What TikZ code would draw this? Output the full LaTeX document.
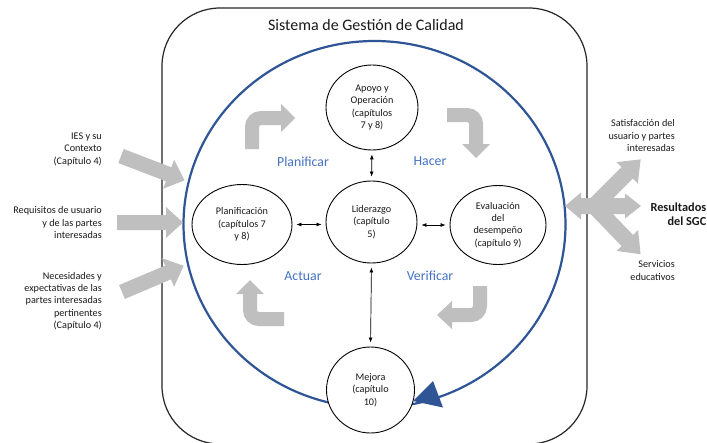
\documentclass[tikz,border=0pt]{standalone}
\usepackage{fontspec}
\setmainfont{Carlito}
\usetikzlibrary{shapes.geometric,arrows.meta}
\definecolor{sgcblue}{HTML}{2F5597}
\definecolor{lblblue}{HTML}{4472C4}
\definecolor{grayarrow}{HTML}{BFBFBF}
\definecolor{txt}{HTML}{1A1A1A}
\newcommand{\bodyfont}{\fontsize{10.2}{12.3}\selectfont}
% #1 start, #2 angle, #3 length, #4 shaft half width, #5 head half width, #6 head length
\newcommand{\fatarrow}[6]{%
  \begin{scope}[shift={#1},rotate=#2]
    \fill[grayarrow] (0,-#4) -- ({#3-#6},-#4) -- ({#3-#6},-#5) -- (#3,0) -- ({#3-#6},#5) -- ({#3-#6},#4) -- (0,#4) -- cycle;
  \end{scope}}
\begin{document}
\begin{tikzpicture}[x=1pt,y=-1pt,
  circnode/.style={ellipse, draw=black, line width=0.9pt, fill=white, inner sep=0pt, align=center, font=\bodyfont, text=txt},
  sidetext/.style={inner sep=0pt, align=right, font=\bodyfont, text=txt, anchor=east},
  phase/.style={inner sep=0pt, font=\fontsize{13.8}{16}\selectfont, text=lblblue},
  conn/.style={{Latex[length=5pt,width=4pt]}-{Latex[length=5pt,width=4pt]}, line width=0.7pt, shorten >=4pt, shorten <=4pt},
  bentshaft/.style={draw=grayarrow, line width=14pt, rounded corners=9pt},
  boxline/.style={draw=black!85, line width=1.2pt, rounded corners=58pt},
  cycleline/.style={draw=sgcblue, line width=2.2pt}]
\useasboundingbox (0,0) rectangle (707,442);
\clip (0,0) rectangle (707,442);
\fill[white] (0,0) rectangle (707,442);

% outer system box
\draw[boxline] (162,8) rectangle (587,444);
\node[inner sep=0pt, font=\fontsize{16}{19}\selectfont, text=txt] (ttl) at (366,25) {Sistema de Gestión de Calidad};

% PDCA cycle
\draw[cycleline] (374.5,224.4) ellipse [x radius=191, y radius=183.4];

% bent gray arrows
\draw[bentshaft] (252,149) -- (252,118) -- (281.5,118);
\fill[grayarrow] (281,104) -- (295,118) -- (281,132) -- cycle;
\draw[bentshaft] (447,115) -- (476,115) -- (476,144.5);
\fill[grayarrow] (462,144) -- (490,144) -- (476,158) -- cycle;
\draw[bentshaft] (480,286) -- (480,315) -- (451.5,315);
\fill[grayarrow] (452,301) -- (452,329) -- (437,315) -- cycle;
\draw[bentshaft] (284,319) -- (250,319) -- (250,293.5);
\fill[grayarrow] (236,294) -- (264,294) -- (250,280) -- cycle;

% input arrows (left)
\fatarrow{(121,156)}{-21}{68}{7.5}{15.5}{17}
\fatarrow{(117,222.5)}{0}{66}{7.5}{15.5}{17}
\fatarrow{(122,292)}{23}{67}{7.5}{15.5}{17}

% output arrows (right)
\fatarrow{(598,206)}{180}{33}{8}{13.5}{16}
\fatarrow{(596,206)}{0}{45}{8}{12.5}{16}
\fatarrow{(594,206)}{45}{66}{8}{15}{19}
\fatarrow{(594,206)}{-46}{67}{8}{15}{19}

% process nodes
\node[circnode, minimum width=92pt, minimum height=85pt] (apo) at (372,107.5) {Apoyo y\\Operación\\(capítulos\\7 y 8)};
\node[circnode, minimum width=91pt, minimum height=82pt] (lid) at (371.5,222) {Liderazgo\\(capítulo\\5)};
\node[circnode, minimum width=100pt, minimum height=80pt] (pla) at (242,224.5) {Planificación\\(capítulos 7\\y 8)};
\node[circnode, minimum width=96pt, minimum height=79pt] (eva) at (498,225) {Evaluación\\del\\desempeño\\(capítulo 9)};
\node[circnode, minimum width=88pt, minimum height=86pt] (mej) at (370.5,390) {Mejora\\(capítulo\\10)};

% connectors
\draw[conn] (apo.south) -- (lid.north);
\draw[conn] (lid.south) -- (mej.north);
\draw[conn] (pla.east) -- (pla.east -| lid.west);
\draw[conn] (eva.west -| lid.east) -- (eva.west);

% arrowhead of the cycle
\fill[sgcblue] (413,401) -- (433,381) -- (443,407.5) -- cycle;

% phase labels
\node[phase] (plan) at (303,162) {Planificar};
\node[phase] (hac) at (430,161) {Hacer};
\node[phase] (act) at (303,276) {Actuar};
\node[phase] (ver) at (430,276) {Verificar};

% left texts
\node[sidetext] (ies) at (102,149.5) {IES y su\\Contexto\\(Capítulo 4)};
\node[sidetext] (req) at (102,222.5) {Requisitos de usuario\\y de las partes\\interesadas};
\node[sidetext] (nec) at (102,301) {Necesidades y\\expectativas de las\\partes interesadas\\pertinentes\\(Capítulo 4)};

% right texts
\node[sidetext] (sat) at (675,135.5) {Satisfacción del\\usuario y partes\\interesadas};
\node[sidetext, font=\fontsize{12.3}{14}\selectfont\bfseries] (res) at (706.5,214) {Resultados\\del SGC};
\node[sidetext] (ser) at (675,270.5) {Servicios\\educativos};
\end{tikzpicture}
\end{document}
